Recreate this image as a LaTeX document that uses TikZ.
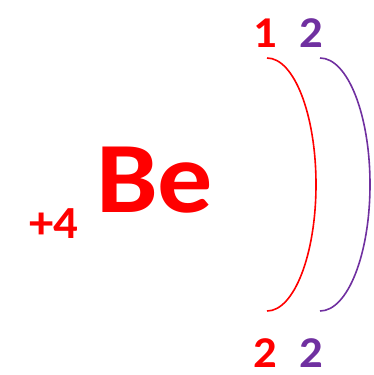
\documentclass[tikz,border=0pt]{standalone}
\usepackage{fontspec}
\setmainfont{Carlito}
\definecolor{elred}{HTML}{FF0000}
\definecolor{elpurple}{HTML}{7030A0}
\begin{document}
\begin{tikzpicture}[x=1pt,y=1pt,
  num/.style={inner sep=0pt, anchor=base, xscale=1.06, transform shape, font=\fontsize{44}{44}\selectfont\bfseries},
  shell/.style={line width=1.6pt}]
\useasboundingbox (0,0) rectangle (374,-375);
\node[inner sep=0pt, anchor=base west, text=elred, xscale=1.09, transform shape, font=\fontsize{101}{101}\selectfont\bfseries] (be) at (96,-212) {Be};
\node[inner sep=0pt, anchor=base west, text=elred, xscale=1.06, transform shape, font=\fontsize{46}{46}\selectfont\bfseries] (charge) at (29,-238) {+4};
\node[num, text=elred] (n1) at (265,-47) {1};
\node[num, text=elpurple] (n2) at (311,-47) {2};
\node[num, text=elred] (e1) at (265,-367) {2};
\node[num, text=elpurple] (e2) at (311,-367) {2};
\coordinate (s1) at (267,-58);
\coordinate (s2) at (320,-58);
\draw[shell, elred] (s1) arc[start angle=90, end angle=-90, x radius=49, y radius=126.5];
\draw[shell, elpurple] (s2) arc[start angle=90, end angle=-90, x radius=50, y radius=126.5];
\end{tikzpicture}
\end{document}
